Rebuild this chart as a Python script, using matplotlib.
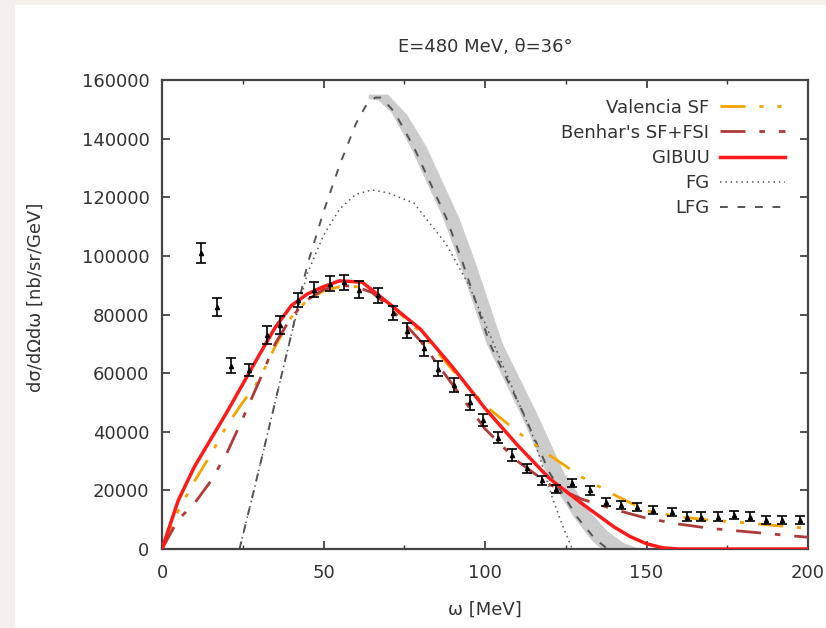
import numpy as np
import matplotlib
matplotlib.use('Agg')
import matplotlib.pyplot as plt
from matplotlib.patches import Rectangle
from matplotlib.ticker import MultipleLocator

# data (omega in MeV, cross section in nb/sr/GeV)
data_w = [12, 17, 21.5, 27, 32.5, 36.5, 42, 47, 52, 56.5, 61, 67, 71.5, 76, 81, 85.5,
          90.5, 95.5, 99.5, 104, 108.5, 113, 117.5, 122, 127, 132.5, 137.5, 142,
          147, 152, 158, 162.5, 167, 172, 177, 182, 187, 192, 197.5]
data_y = [101000, 82500, 62500, 61000, 73000, 76500, 85000, 88500, 90500, 91000,
          88500, 86500, 80500, 74500, 68500, 61500, 56000, 50000, 44000, 38000,
          32000, 27500, 23500, 20500, 22500, 20000, 16000, 15000, 14300, 13300,
          12600, 11000, 11000, 11000, 11600, 11000, 9900, 9900, 9900]
data_err = [3500, 3000, 2500, 2000, 3000, 3000, 2500, 2500, 2500, 2500,
            3000, 2500, 2500, 2500, 2500, 2500, 2500, 2500, 2000, 2000,
            2000, 1500, 1500, 1500, 1500, 1500, 1500, 1500, 1500, 1500,
            1500, 1500, 1500, 1500, 1500, 1500, 1500, 1500, 1500]

valencia_w = [0, 5, 10, 15, 20, 25, 30, 35, 40, 45, 50, 55, 60, 65, 70, 80, 90,
              100, 110, 120, 130, 140, 150, 160, 170, 180, 190, 200]
valencia_y = [0, 13000, 23000, 32000, 42000, 50000, 57500, 69000, 79000, 85000,
              88000, 89500, 89500, 88000, 84000, 74000, 61000, 49000, 40000,
              32000, 24500, 18500, 13000, 11000, 9800, 9000, 8000, 7000]

benhar_w = [0, 5, 10, 15, 20, 25, 30, 35, 40, 45, 50, 55, 60, 65, 70, 80, 90,
            100, 110, 120, 130, 140, 150, 160, 170, 180, 190, 200]
benhar_y = [0, 10000, 15500, 23000, 32500, 44500, 57000, 70000, 79000, 85000,
            88500, 90000, 89500, 87500, 83000, 71000, 56000, 41000, 30000, 22000,
            17000, 13500, 10500, 8500, 7000, 6000, 5000, 4000]

gibuu_w = [0, 5, 10, 20, 30, 35, 40, 45, 50, 55, 62, 70, 80, 90, 100, 110, 120,
           130, 140, 145, 150, 155, 160, 200]
gibuu_y = [0, 16500, 28000, 46500, 66000, 75500, 83000, 87000, 89500, 91500,
           91000, 84000, 75000, 62000, 48000, 35500, 24000, 15500, 7500, 4200,
           1800, 400, 0, 0]

fg_w = [24, 30, 35, 40, 45, 50, 55, 60, 65, 70, 78, 83, 88, 95, 100, 110, 115,
        121, 124, 127]
fg_y = [0, 27000, 50000, 73000, 94000, 107000, 116000, 121000, 122500, 121500,
        118000, 111000, 104000, 90000, 77000, 51000, 38000, 17000, 8000, 0]

lfg_w = [24, 30, 35, 40, 45, 50, 55, 60, 63, 66, 68, 72, 78, 83, 88, 93, 101.5,
         111.8, 120, 128.5, 134, 138]
lfg_y = [0, 27000, 50000, 73000, 97000, 115000, 131000, 145000, 151000, 154000,
         154000, 149000, 137000, 125000, 113000, 98000, 70000, 46500, 26000,
         10900, 3500, 0]

# uncertainty band on the LFG curve (right and left edges)
band_hi_w = [64, 70, 76, 82, 87, 92, 97, 105.5, 116, 124.5, 133, 138, 143, 148]
band_hi_y = [155000, 155000, 148000, 137000, 125000, 113000, 98000, 70000, 46500,
             26000, 12000, 6000, 2000, 0]
band_lo_w = [64, 67, 71, 77, 82, 87, 92, 100.5, 110.8, 119, 127.5, 133, 136]
band_lo_y = [153500, 153000, 149000, 137000, 125000, 113000, 98000, 70000, 46500,
             26000, 10900, 3000, 0]

plt.rcParams['font.family'] = 'DejaVu Sans'
plt.rcParams['font.size'] = 13

fig = plt.figure(figsize=(8.26, 6.28), dpi=100)
fig.patch.set_facecolor('#f3efe9')
fig.patches.append(Rectangle((15 / 826, 0), 1, 1 - 5 / 628, transform=fig.transFigure,
                             facecolor='white', edgecolor='none', zorder=-10))
ax = fig.add_axes([162 / 826, 79 / 628, 646 / 826, 469 / 628])

ax.fill(band_hi_w + band_lo_w[::-1], band_hi_y + band_lo_y[::-1],
        color='#cccccc', lw=0, zorder=1)
ax.plot(lfg_w, lfg_y, color='#555555', lw=1.4, ls=(0, (4, 5)), label='LFG', zorder=2)
ax.plot(fg_w, fg_y, color='#555555', lw=1.1, ls=(0, (1, 2.5)), label='FG', zorder=2)
ax.plot(valencia_w, valencia_y, color='#f5a300', lw=2, ls=(0, (9, 5, 1.5, 5, 1.5, 5)),
        label='Valencia SF', zorder=3)
ax.plot(benhar_w, benhar_y, color='#b03a3a', lw=2, ls=(0, (9, 5, 2, 5)),
        label="Benhar's SF+FSI", zorder=3)
ax.plot(gibuu_w, gibuu_y, color='#ff1a1a', lw=2.5, label='GIBUU', zorder=4)
ax.errorbar(data_w, data_y, yerr=data_err, fmt='^', ms=3, color='black',
            ecolor='black', elinewidth=1.2, capsize=3.5, capthick=1.2, zorder=5)

ax.set_xlim(0, 200)
ax.set_ylim(0, 160000)
ax.xaxis.set_major_locator(MultipleLocator(50))
ax.xaxis.set_minor_locator(MultipleLocator(25))
ax.yaxis.set_major_locator(MultipleLocator(20000))
ax.tick_params(which='both', direction='in', top=True, right=True, colors='#333333')
ax.tick_params(which='major', length=6, width=1.2)
ax.tick_params(which='minor', length=3, width=1)
ax.tick_params(axis='x', pad=11)
ax.tick_params(axis='y', pad=9)
for s in ax.spines.values():
    s.set_color('#444444')
    s.set_linewidth(1.6)

ax.text(0.5, 1.06, 'E=480 MeV, θ=36°', transform=ax.transAxes, ha='center',
        va='baseline', color='#333333')
ax.set_xlabel('ω [MeV]', color='#333333')
ax.set_ylabel('dσ/dΩdω [nb/sr/GeV]', color='#333333')
ax.xaxis.set_label_coords(0.5, -0.11)
ax.yaxis.set_label_coords(-0.182, 0.537)

handles, labels = ax.get_legend_handles_labels()
order = ['Valencia SF', "Benhar's SF+FSI", 'GIBUU', 'FG', 'LFG']
h = [handles[labels.index(o)] for o in order]
ax.legend(h, order, loc='upper right', bbox_to_anchor=(0.99, 0.995), frameon=False,
          markerfirst=False, handlelength=3.6, labelspacing=0.4, handletextpad=0.6,
          labelcolor='#333333')

fig.savefig('out.png', dpi=100)
